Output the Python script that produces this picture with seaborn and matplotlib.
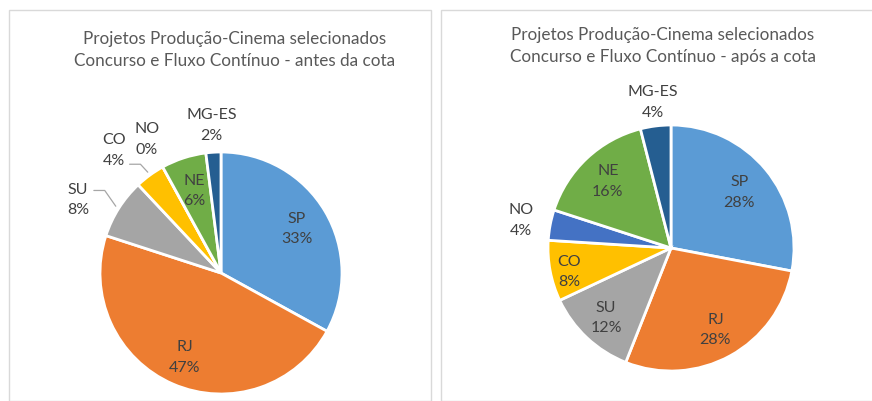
import numpy as np
import matplotlib
matplotlib.use("Agg")
import matplotlib.pyplot as plt
from matplotlib.patches import Rectangle
import seaborn as sns

# data (percent of selected projects)
regions = ["SP", "RJ", "SU", "CO", "NO", "NE", "MG-ES"]
before_pct = [33, 47, 8, 4, 0, 6, 2]
after_pct = [28, 28, 12, 8, 4, 16, 4]
title_before = "Projetos Produção-Cinema selecionados\nConcurso e Fluxo Contínuo - antes da cota"
title_after = "Projetos Produção-Cinema selecionados\nConcurso e Fluxo Contínuo - após a cota"

colors = ["#5B9BD5", "#ED7D31", "#A5A5A5", "#FFC000", "#4472C4", "#70AD47", "#255E91"]

sns.set_theme(style="white")
plt.rcParams["font.family"] = ["Lato", "DejaVu Sans"]

W, H = 872, 402
fig = plt.figure(figsize=(W / 100, H / 100), dpi=100)

# panel frames
fig.patches.append(Rectangle((9 / W, 0), (431 - 9) / W, (H - 11) / H, transform=fig.transFigure,
                             fill=False, edgecolor="#D9D9D9", linewidth=1))
fig.patches.append(Rectangle((441 / W, 0), (W + 5 - 441) / W, (H - 11) / H, transform=fig.transFigure,
                             fill=False, edgecolor="#D9D9D9", linewidth=1))


def draw_pie(cx, cy, r, values, title, tx, ty, label_pos, leaders):
    half = 170
    ax = fig.add_axes([(cx - half) / W, (H - cy - half) / H, 2 * half / W, 2 * half / H])
    lim = half / r
    ax.pie(values, colors=colors, startangle=90, counterclock=False, radius=1,
           wedgeprops=dict(edgecolor="white", linewidth=2))
    ax.set_xlim(-lim, lim)
    ax.set_ylim(-lim, lim)
    ax.set_aspect("equal")
    ax.axis("off")
    cum = np.cumsum([0] + list(values)) / sum(values)
    for i, name in enumerate(regions):
        mid_deg = 90 - 360 * (cum[i] + cum[i + 1]) / 2
        rr, shift = label_pos[name]
        a = np.deg2rad(mid_deg - shift)
        x, y = rr * np.cos(a), rr * np.sin(a)
        ax.text(x, y, f"{name}\n{values[i]}%", ha="center", va="center",
                fontsize=11.5, color="#404040", linespacing=1.6)
        if name in leaders:
            dy = leaders[name]
            m = np.deg2rad(mid_deg)
            xe, ye = 1.03 * np.cos(m), 1.03 * np.sin(m)
            ax.plot([x + 0.13, x + 0.22, xe], [y + dy, y + dy, ye], color="#A6A6A6", lw=0.9)
    fig.text(tx / W, 1 - ty / H, title, ha="center", va="center", fontsize=12.3,
             color="#595959", linespacing=1.45)


draw_pie(221, 274, 121, before_pct, title_before, 235, 50,
         {"SP": (0.73, 0), "RJ": (0.75, 0), "SU": (1.33, -5), "CO": (1.35, -5),
          "NO": (1.27, 0), "NE": (0.72, 0), "MG-ES": (1.23, 0)},
         {"SU": 0.07, "CO": -0.12})
draw_pie(671, 249, 123, after_pct, title_after, 663, 46,
         {"SP": (0.72, 0), "RJ": (0.75, 0), "SU": (0.77, 0), "CO": (0.85, -2),
          "NO": (1.24, 0), "NE": (0.75, 0), "MG-ES": (1.2, 0)},
         {})

fig.savefig("out.png", dpi=100)
